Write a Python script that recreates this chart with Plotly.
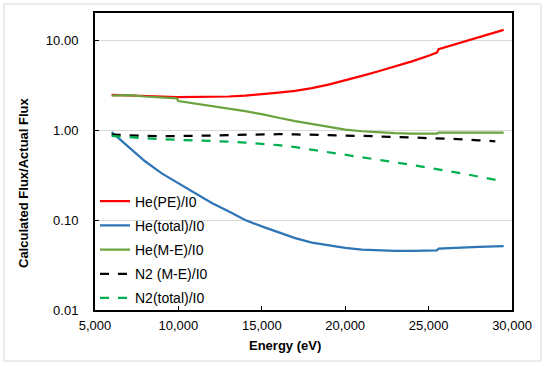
import plotly.graph_objects as go

energy = [6000, 7000, 8000, 9000, 9900, 10000, 11000, 12000, 13000, 14000, 15000, 15900, 16000,
          17000, 18000, 19000, 19500, 20000, 21000, 22000, 23000, 24000, 25000, 25500, 25600,
          26000, 27000, 28000, 29000, 29500]

he_pe = [2.46, 2.44, 2.40, 2.36, 2.33, 2.33, 2.32, 2.33, 2.36, 2.41, 2.48, 2.56, 2.60,
         2.72, 2.92, 3.2, 3.4, 3.6, 4.0, 4.5, 5.1, 5.8, 6.7, 7.25, 7.9,
         8.3, 9.4, 10.7, 12.2, 13.0]
he_total = [0.95, 0.65, 0.45, 0.33, 0.262, 0.256, 0.2, 0.155, 0.125, 0.1, 0.085, 0.074, 0.073,
            0.063, 0.056, 0.052, 0.050, 0.049, 0.047, 0.046, 0.0455, 0.0455, 0.046, 0.046, 0.048,
            0.0485, 0.0495, 0.0503, 0.051, 0.0512]
he_me = [2.42, 2.45, 2.36, 2.32, 2.25, 2.1, 1.97, 1.85, 1.74, 1.62, 1.5, 1.4, 1.37,
         1.26, 1.17, 1.09, 1.05, 1.01, 0.97, 0.94, 0.925, 0.915, 0.91, 0.91, 0.935,
         0.935, 0.94, 0.94, 0.94, 0.935]
n2_me = [0.89, 0.87, 0.86, 0.855, 0.855, 0.855, 0.86, 0.87, 0.88, 0.89, 0.895, 0.9, 0.9,
         0.895, 0.89, 0.88, 0.875, 0.87, 0.86, 0.85, 0.84, 0.83, 0.82, 0.815, 0.81,
         0.8, 0.79, 0.77, 0.75, None]
n2_total = [0.86, 0.83, 0.81, 0.79, 0.78, 0.78, 0.77, 0.76, 0.745, 0.725, 0.705, 0.685, 0.68,
            0.645, 0.605, 0.565, 0.55, 0.53, 0.5, 0.47, 0.44, 0.41, 0.38, 0.365, 0.36,
            0.355, 0.33, 0.305, 0.28, 0.268]

series_names = ["He(PE)/I0", "He(total)/I0", "He(M-E)/I0", "N2 (M-E)/I0", "N2(total)/I0"]
series_values = [he_pe, he_total, he_me, n2_me, n2_total]
series_colors = ["#FF0000", "#2E75B6", "#6AA33E", "#000000", "#00B050"]
series_dash = ["solid", "solid", "solid", "dash", "dash"]

x_ticks = [5000, 10000, 15000, 20000, 25000, 30000]
x_tick_labels = ["5,000", "10,000", "15,000", "20,000", "25,000", "30,000"]
y_ticks = [0.01, 0.1, 1, 10]
y_tick_labels = ["0.01", "0.10", "1.00", "10.00"]

FONT = "Liberation Sans, Arial, sans-serif"

fig = go.Figure()
for i, (name, vals, col, dash) in enumerate(zip(series_names, series_values, series_colors, series_dash)):
    fig.add_trace(go.Scatter(
        x=energy, y=vals, mode="lines", name=name,
        line=dict(color=col, width=2.25, dash=dash),
        legendgroup=f"g{i}", connectgaps=False,
    ))

fig.update_layout(
    width=550, height=366,
    margin=dict(l=95, r=38, t=13, b=56),
    paper_bgcolor="white", plot_bgcolor="white",
    font=dict(family=FONT, size=13, color="#000000"),
    showlegend=True,
    legend=dict(x=0.0, y=-0.012, xanchor="left", yanchor="bottom",
                bgcolor="rgba(0,0,0,0)", font=dict(size=14, family=FONT),
                tracegroupgap=3),
    xaxis=dict(range=[5000, 30000], tickvals=x_ticks, ticktext=x_tick_labels,
               showgrid=False, zeroline=False,
               showline=True, linecolor="black", linewidth=2, mirror=True,
               ticks="inside", ticklen=4, tickcolor="black", tickwidth=1,
               ticklabelstandoff=2, tickfont=dict(size=13)),
    yaxis=dict(type="log", range=[-2, 1.30103], tickvals=y_ticks, ticktext=y_tick_labels,
               showgrid=True, gridcolor="#D9D9D9", gridwidth=1, zeroline=False,
               showline=True, linecolor="black", linewidth=2, mirror=True,
               ticks="inside", ticklen=4, tickcolor="black", tickwidth=1,
               ticklabelstandoff=12, tickfont=dict(size=13)),
    annotations=[
        dict(text="<b>Energy (eV)</b>", xref="paper", yref="paper",
             x=(285 - 95) / 417, y=(310 - 346) / 297, xanchor="center", yanchor="middle",
             showarrow=False, font=dict(size=13, family=FONT)),
        dict(text="<b>Calculated Flux/Actual Flux</b>", xref="paper", yref="paper",
             x=(23 - 95) / 417, y=(310 - 183) / 297, xanchor="center", yanchor="middle",
             textangle=-90, showarrow=False, font=dict(size=13, family=FONT)),
    ],
    shapes=[
        dict(type="rect", xref="paper", yref="paper",
             x0=(4 - 95) / 417, x1=(541 - 95) / 417, y0=(310 - 361) / 297, y1=(310 - 4) / 297,
             line=dict(color="#D9D9D9", width=1), fillcolor="rgba(0,0,0,0)", layer="below"),
    ],
)

fig.write_html("out.html", config={"displayModeBar": False},
               post_script="document.body.style.margin='0';document.body.style.overflow='hidden';")
